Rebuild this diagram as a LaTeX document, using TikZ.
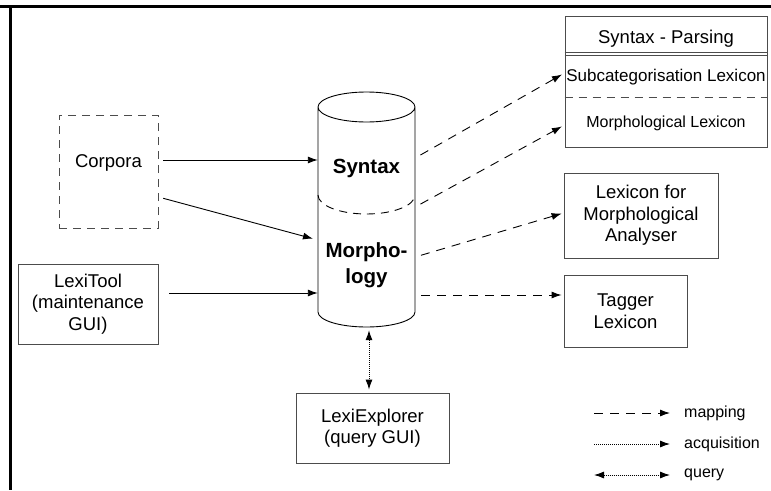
\documentclass[tikz,border=0pt]{standalone}
\usepackage{fontspec}
\setmainfont{Liberation Sans}
\usepackage{tikz}
\usetikzlibrary{shapes,arrows.meta,positioning}

\begin{document}
\begin{tikzpicture}[
    x=1pt, y=-1pt,
    font=\fontsize{18.5}{21.5}\selectfont,
    box/.style={rectangle, draw=black!70, line width=0.9pt, align=center, inner sep=0pt},
    srcbox/.style={box, dashed, dash pattern=on 8pt off 6pt},
    dbtext/.style={font=\fontsize{20.5}{26}\selectfont\bfseries, align=center, inner sep=0pt},
    lgtext/.style={font=\fontsize{16}{18}\selectfont, anchor=west, inner sep=0pt},
    arrow/.style={-{Latex[length=10pt,width=7pt]}, line width=0.9pt},
    mapping/.style={arrow, dash pattern=on 9pt off 7pt},
    acquis/.style={arrow, dash pattern=on 1pt off 1pt},
    query/.style={{Latex[length=10pt,width=7pt]}-{Latex[length=10pt,width=7pt]}, line width=0.9pt, dash pattern=on 1pt off 1pt}
]
    \useasboundingbox (0,0) rectangle (771,490);
    % frame (cut off)
    \draw[line width=3pt] (0,6.5) -- (771,6.5);
    \draw[line width=2.7pt] (10.3,5) -- (10.3,490);

    % sources
    \node[srcbox, minimum width=99pt, minimum height=113pt,
          label={[yshift=8.5pt]center:Corpora}] (corp) at (108.5,171.5) {};
    \node[box, minimum width=140pt, minimum height=80pt] (tool) at (88,304)
        {LexiTool\\(maintenance\\GUI)};
    \node[box, minimum width=153pt, minimum height=70pt] (expl) at (372.5,428)
        {LexiExplorer\\(query GUI)};

    % database
    \node[minimum width=97pt, minimum height=235pt, inner sep=0pt] (db) at (366.5,209.5) {};
    \draw[line width=0.9pt] (318,107) -- (318,312) arc[start angle=180, end angle=360, x radius=48.5, y radius=-15]
        -- (415,107) arc[start angle=0, end angle=360, x radius=48.5, y radius=-15];
    \draw[line width=0.9pt, dash pattern=on 8pt off 6pt] (318,195) arc[start angle=180, end angle=360, x radius=48.5, y radius=-19];
    \node[dbtext] (syntax) at (366.5,168) {Syntax};
    \node[dbtext] (morph) at (366.5,265) {Morpho-\\logy};

    % targets
    \node[box, minimum width=202pt, minimum height=131pt] (syn) at (666,81.5) {};
    \node[inner sep=0pt] (synhead) at (666,39) {Syntax - Parsing};
    \draw[black!70, line width=0.9pt] (syn.west |- 0,52) -- (syn.east |- 0,52)
        (syn.west |- 0,55.5) -- (syn.east |- 0,55.5);
    \draw[black!70, line width=0.9pt, dash pattern=on 8pt off 6pt] (syn.west |- 0,97) -- (syn.east |- 0,97);
    \node[inner sep=0pt, font=\fontsize{17}{20}\selectfont] (subcat) at (666,77) {Subcategorisation Lexicon};
    \node[inner sep=0pt, font=\fontsize{16}{19}\selectfont] (morphlex) at (666,123) {Morphological Lexicon};
    \node[box, minimum width=154pt, minimum height=85pt] (lma) at (641,215.5)
        {Lexicon for\\Morphological\\Analyser};
    \node[box, minimum width=123pt, minimum height=72pt] (tag) at (625.5,311)
        {Tagger\\Lexicon};

    % acquisition
    \draw[arrow, shorten <=5pt] ([yshift=11.5pt]corp.east) -- (db.west |- 0,160);
    \draw[arrow, shorten <=5pt, shorten >=5pt] ([yshift=-25.5pt]corp.east) -- (db.west |- 0,240);
    \draw[arrow, shorten <=11pt] ([yshift=11pt]tool.east) -- (db.west |- 0,293);
    \draw[query, shorten <=3pt, shorten >=3pt] ([xshift=2.5pt]db.south) -- ([xshift=-3.5pt]expl.north);

    % mappings
    \draw[mapping, shorten <=6pt, shorten >=3pt] (db.east |- 0,158) -- (syn.west |- 0,73);
    \draw[mapping, shorten <=6pt, shorten >=3pt] (db.east |- 0,207) -- (syn.west |- 0,125);
    \draw[mapping, shorten <=6pt, shorten >=2pt] (db.east |- 0,257) -- (lma.west |- 0,213);
    \draw[mapping, shorten <=6pt, shorten >=2pt] (db.east |- 0,295) -- (tag.west |- 0,295);

    % legend
    \node[lgtext] (lgmap) at (684,413) {mapping};
    \node[lgtext] (lgacq) at (684,444) {acquisition};
    \node[lgtext] (lgqry) at (684,475) {query};
    \coordinate (lgmap0) at (594,413);
    \coordinate (lgacq0) at (594,444);
    \coordinate (lgqry0) at (594,475);
    \draw[mapping] (lgmap0) -- ([xshift=-14pt]lgmap.west);
    \draw[acquis] (lgacq0) -- ([xshift=-14pt]lgacq.west);
    \draw[query] (lgqry0) -- ([xshift=-14pt]lgqry.west);
\end{tikzpicture}
\end{document}
